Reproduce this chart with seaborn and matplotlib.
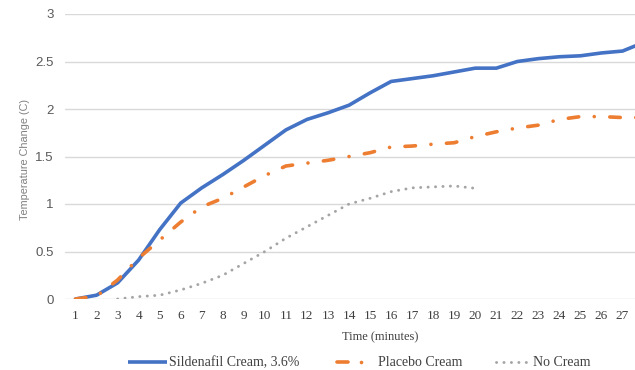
import numpy as np
import pandas as pd
import seaborn as sns
import matplotlib
matplotlib.use("Agg")
import matplotlib.pyplot as plt
from matplotlib.lines import Line2D

minutes = list(range(1, 29))
sildenafil = [0, 0.04, 0.17, 0.41, 0.73, 1.01, 1.17, 1.31, 1.46, 1.62, 1.78, 1.89, 1.96, 2.04,
              2.17, 2.29, 2.32, 2.35, 2.39, 2.43, 2.43, 2.50, 2.53, 2.55, 2.56, 2.59, 2.61, 2.70]
placebo = [0, 0.03, 0.20, 0.43, 0.62, 0.81, 0.97, 1.06, 1.18, 1.30, 1.40, 1.43, 1.46, 1.50,
           1.54, 1.60, 1.61, 1.63, 1.645, 1.71, 1.76, 1.80, 1.83, 1.89, 1.92, 1.92, 1.91, 1.91]
no_cream_minutes = list(range(3, 21))
no_cream = [0, 0.025, 0.04, 0.095, 0.165, 0.25, 0.375, 0.5, 0.64, 0.76, 0.88, 1.0,
            1.06, 1.13, 1.17, 1.18, 1.19, 1.165]

series_names = ["Sildenafil Cream, 3.6%", "Placebo Cream", "No Cream"]
colors = ["#4472C4", "#ED7D31", "#A5A5A5"]
x_tick_values = list(range(1, 28))
y_ticks = [0, 0.5, 1, 1.5, 2, 2.5, 3]
y_tick_labels = ["0", "0.5", "1", "1.5", "2", "2.5", "3"]

df = pd.concat([
    pd.DataFrame({"Time": minutes, "Change": sildenafil, "Series": series_names[0]}),
    pd.DataFrame({"Time": minutes, "Change": placebo, "Series": series_names[1]}),
    pd.DataFrame({"Time": no_cream_minutes, "Change": no_cream, "Series": series_names[2]}),
])

sns.set_theme(style="white")
W, H = 635, 370
fig = plt.figure(figsize=(W / 100, H / 100), dpi=100)
left_px, right_px = 65, 65 + 28 * 21.04
bottom_px, top_px = 299, 14
ax = fig.add_axes([left_px / W, (H - bottom_px) / H, (right_px - left_px) / W, (bottom_px - top_px) / H])

orange_dash = (2.9, 4.3, 0.01, 4.3)
gray_dash = (0.05, 2.5)
dashes = {series_names[0]: "", series_names[1]: orange_dash, series_names[2]: gray_dash}
sns.lineplot(data=df, x="Time", y="Change", hue="Series", style="Series",
             palette=dict(zip(series_names, colors)), dashes=dashes,
             linewidth=2.6, ax=ax, legend=False, sort=False)
for ln in ax.lines:
    ln.set_dash_capstyle("round")
    ln.set_solid_capstyle("round")
ax.lines[2].set_linewidth(2.1)

ax.set_xlim(0.5, 28.5)
ax.set_ylim(0, 3)
ax.set_xticks(x_tick_values)
ax.set_xticklabels([str(m) for m in x_tick_values], family="Liberation Serif", fontsize=9.5, color="#404040")
ax.set_yticks(y_ticks)
ax.set_yticklabels(y_tick_labels, family="Liberation Sans", fontsize=9.5, color="#595959")
ax.tick_params(axis="both", length=0, pad=8)
ax.grid(axis="y", color="#d9d9d9", linewidth=1)
ax.set_axisbelow(True)
for s in ax.spines.values():
    s.set_visible(False)
ax.set_xlabel("")
ax.set_ylabel("")

fig.text(380 / W, 1 - 337 / H, "Time (minutes)", ha="center", va="center",
         family="Liberation Serif", fontsize=9, color="#404040")
fig.text(25 / W, 1 - 160 / H, "Temperature Change (C)", ha="center", va="center", rotation=90,
         family="Liberation Sans", fontsize=7.8, color="#808080")

# legend (drawn manually to match positions)
ly = 1 - 361.5 / H
def fx(px):
    return px / W
fig.add_artist(Line2D([fx(128), fx(167)], [ly, ly], color=colors[0], lw=2.6, solid_capstyle="butt"))
fig.add_artist(Line2D([fx(337), fx(348)], [ly, ly], color=colors[1], lw=2.6, solid_capstyle="round"))
fig.add_artist(Line2D([fx(361)], [ly], color=colors[1], marker="o", markersize=2.6, markeredgewidth=0))
fig.add_artist(Line2D([fx(496), fx(533)], [ly, ly], color=colors[2], lw=2.1,
                      dashes=(0.05, 2.5), dash_capstyle="round"))
text_kw = dict(va="center_baseline", ha="left", family="Liberation Serif", fontsize=10, color="#404040")
fig.text(fx(169), ly, series_names[0], **text_kw)
fig.text(fx(378), ly, series_names[1], **text_kw)
fig.text(fx(533), ly, series_names[2], **text_kw)

fig.savefig("out.png", dpi=100, facecolor="white")
